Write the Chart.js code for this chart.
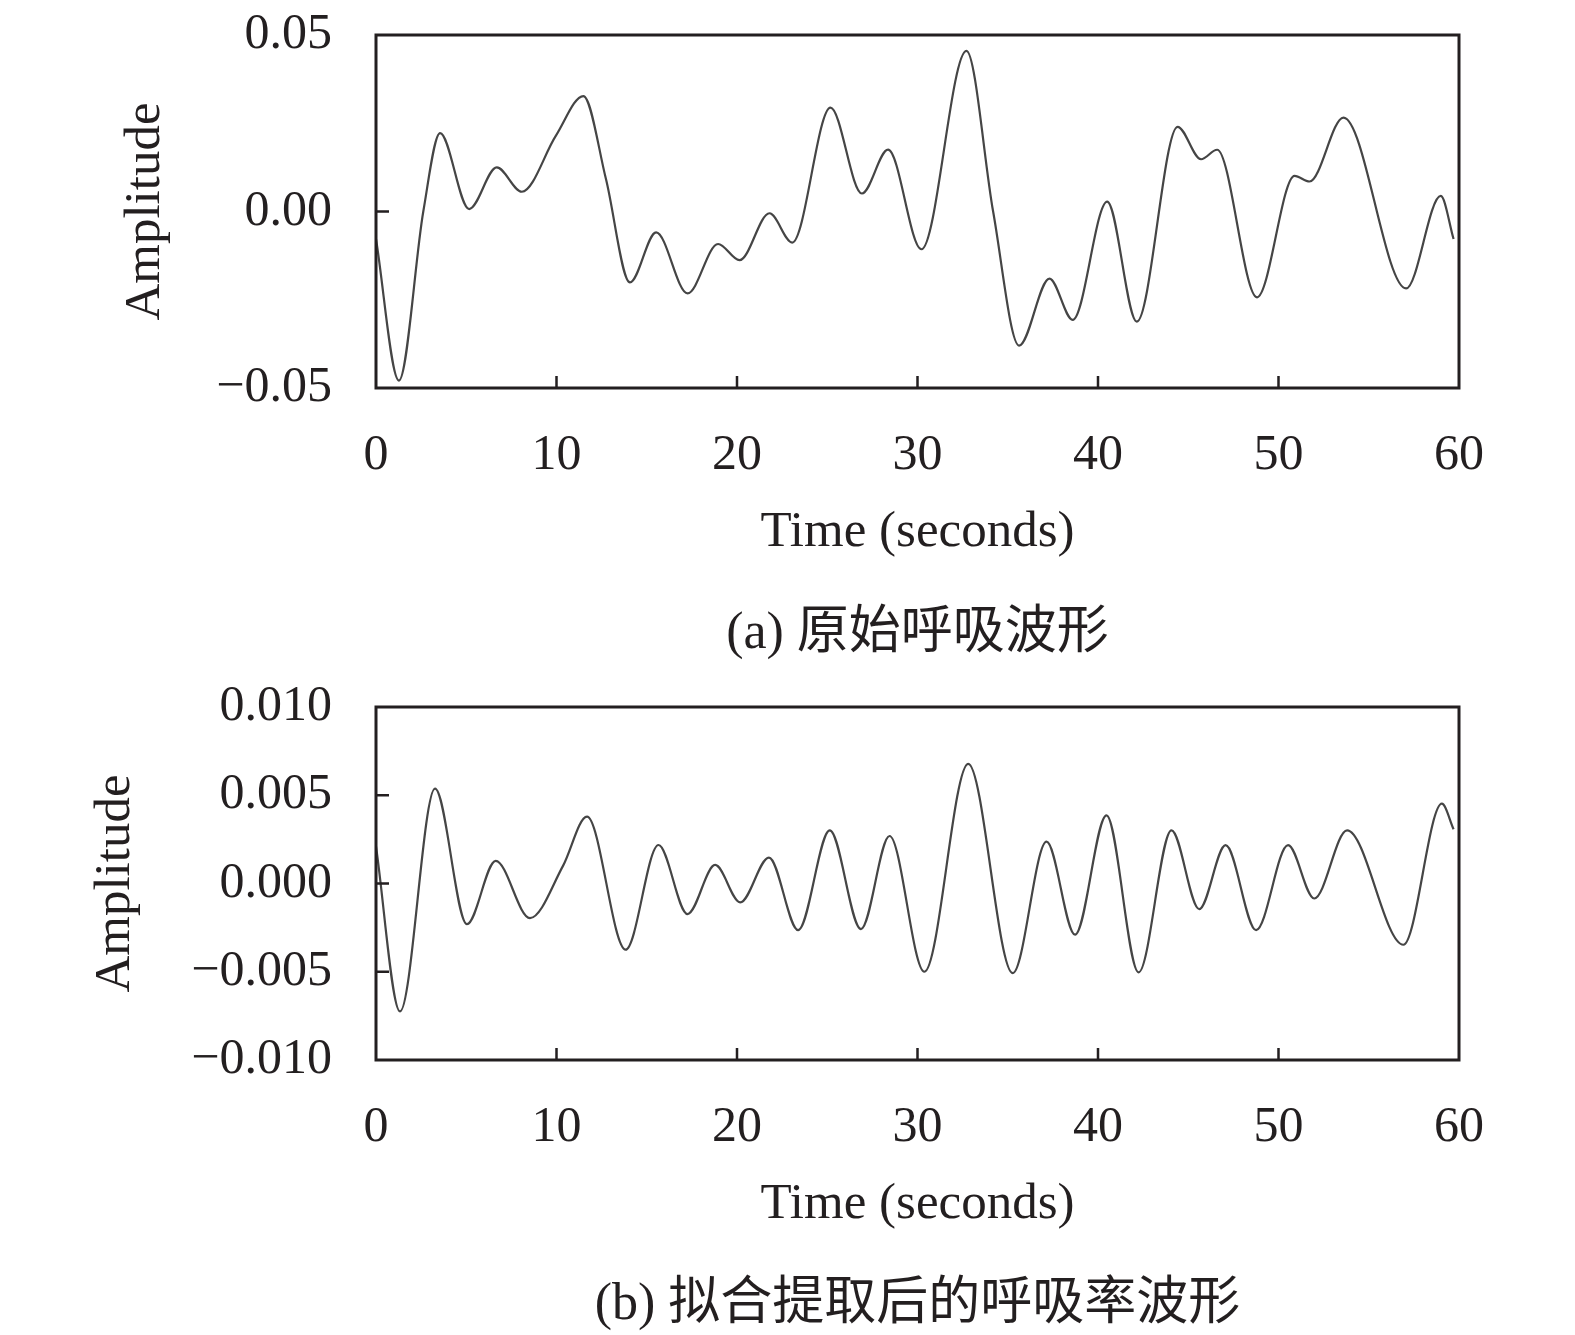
<!DOCTYPE html>
<html>
<head>
<meta charset="utf-8">
<script src="https://cdn.jsdelivr.net/npm/chart.js@4.4.1/dist/chart.umd.min.js"></script>
<style>
  body { margin: 0; background: #fff; width: 1575px; height: 1335px; position: relative; overflow: hidden; }
  canvas { position: absolute; left: 0; }
  .cap {
    position: absolute; left: 376px; width: 1083px; text-align: center;
    font: 52px/60px 'Liberation Serif', 'Noto Sans CJK SC', serif; color: #231f20;
    white-space: nowrap;
  }
</style>
</head>
<body>
<canvas id="chartA" width="1575" height="600" style="top:0px"></canvas>
<div class="cap" style="top:601px">(a) 原始呼吸波形</div>
<canvas id="chartB" width="1575" height="600" style="top:672px"></canvas>
<div class="cap" style="top:1272px">(b) 拟合提取后的呼吸率波形</div>
<script>
// (a) raw breathing waveform (seconds, amplitude)
const timeA = [0, 1.27, 2.62, 3.55, 5.16, 6.69, 8.08, 9.96, 11.49, 12.74, 14.07, 15.52, 17.26,
  18.95, 20.14, 21.8, 23.06, 25.18, 26.92, 28.37, 30.22, 32.71, 34.19, 35.63, 37.31, 38.6,
  40.51, 42.15, 44.41, 45.71, 46.6, 48.81, 50.89, 51.72, 53.6, 57.07, 58.99, 59.7];
const ampA = [-0.0078, -0.0479, 0.0, 0.0222, 0.0007, 0.0125, 0.0056, 0.0214, 0.0327, 0.0092, -0.0201, -0.0059, -0.0232,
  -0.0092, -0.0138, -0.0005, -0.0088, 0.0294, 0.0051, 0.0175, -0.0107, 0.0455, 0.0, -0.038, -0.019, -0.0307,
  0.0028, -0.0312, 0.024, 0.0148, 0.0175, -0.0243, 0.0101, 0.0085, 0.0266, -0.0218, 0.0044, -0.0078];

// (b) fitted breathing-rate waveform
const timeB = [0, 1.33, 3.27, 5.04, 6.63, 8.53, 10.36, 11.69, 13.83, 15.65, 17.26, 18.79, 20.18,
  21.77, 23.39, 25.14, 26.87, 28.45, 30.38, 32.81, 35.28, 37.15, 38.73, 40.47, 42.25, 44.07,
  45.61, 47.07, 48.76, 50.53, 51.98, 53.8, 56.92, 59.05, 59.7];
const ampB = [0.0021, -0.00725, 0.00537, -0.0023, 0.00128, -0.00196, 0.0010, 0.00379, -0.00375, 0.00218, -0.00173, 0.00105, -0.00107,
  0.00147, -0.00264, 0.00301, -0.00258, 0.00269, -0.0050, 0.00678, -0.00508, 0.00237, -0.0029, 0.00386, -0.00503, 0.00301,
  -0.00145, 0.00217, -0.00264, 0.00217, -0.00085, 0.00301, -0.00347, 0.00452, 0.00307];

const xTicks = [0, 10, 20, 30, 40, 50, 60];
const yTicksA = [-0.05, 0, 0.05];
const yLabelsA = ['\u22120.05', '0.00', '0.05'];
const yTicksB = [-0.01, -0.005, 0, 0.005, 0.01];
const yLabelsB = ['\u22120.010', '\u22120.005', '0.000', '0.005', '0.010'];

const INK = '#231f20';
const SERIF = "'Liberation Serif', 'Times New Roman', serif";

// box around the plot plus the short inward tick marks
const framePlugin = {
  id: 'frame',
  afterDatasetsDraw(chart) {
    const { ctx, chartArea: a, scales: { x, y } } = chart;
    ctx.save();
    ctx.strokeStyle = INK;
    ctx.lineWidth = 2.5;
    ctx.beginPath();
    x.ticks.forEach(t => {
      if (t.value <= x.min || t.value >= x.max) return;
      const px = x.getPixelForValue(t.value);
      ctx.moveTo(px, a.bottom);
      ctx.lineTo(px, a.bottom - 12);
    });
    y.ticks.forEach(t => {
      if (t.value <= y.min || t.value >= y.max) return;
      const py = y.getPixelForValue(t.value);
      ctx.moveTo(a.left, py);
      ctx.lineTo(a.left + 13, py);
    });
    ctx.stroke();
    ctx.lineWidth = 3;
    ctx.strokeRect(a.left, a.top, a.right - a.left, a.bottom - a.top);
    ctx.restore();
  }
};

function makeChart(id, times, amps, yTicks, yLabels, yTitlePad) {
  const pts = times.map((t, i) => ({ x: t, y: amps[i] }));
  return new Chart(document.getElementById(id), {
    type: 'line',
    data: {
      datasets: [{
        data: pts,
        borderColor: '#454545',
        borderWidth: 2.2,
        pointRadius: 0,
        fill: false,
        cubicInterpolationMode: 'monotone'
      }]
    },
    options: {
      responsive: false,
      animation: false,
      devicePixelRatio: 1,
      layout: { padding: { top: 35, left: 0, right: 116, bottom: 0 } },
      plugins: { legend: { display: false }, tooltip: { enabled: false } },
      scales: {
        x: {
          type: 'linear',
          min: 0,
          max: 60,
          afterBuildTicks: s => { s.ticks = xTicks.map(v => ({ value: v })); },
          afterFit: s => { s.height = 212; },
          grid: { display: false },
          border: { display: false },
          ticks: { font: { family: SERIF, size: 50 }, color: INK, padding: 30, maxRotation: 0,
            callback: v => String(v) },
          title: { display: true, text: 'Time (seconds)', color: INK,
            font: { family: SERIF, size: 51 }, padding: { top: 0, bottom: 37 } }
        },
        y: {
          min: yTicks[0],
          max: yTicks[yTicks.length - 1],
          afterBuildTicks: s => { s.ticks = yTicks.map(v => ({ value: v })); },
          // fixed width; drop the label padding so the plot top follows layout.padding
          afterFit: s => { s.width = 376; s.paddingTop = 0; s.paddingBottom = 0; },
          grid: { display: false },
          border: { display: false },
          ticks: { font: { family: SERIF, size: 50 }, color: INK, padding: 36,
            callback: (v, i) => yLabels[i] },
          title: { display: true, text: 'Amplitude', color: INK,
            font: { family: SERIF, size: 51 }, padding: { top: yTitlePad, bottom: 0 } }
        }
      }
    },
    plugins: [framePlugin]
  });
}

makeChart('chartA', timeA, ampA, yTicksA, yLabelsA, 115);
makeChart('chartB', timeB, ampB, yTicksB, yLabelsB, 85);
</script>
</body>
</html>
